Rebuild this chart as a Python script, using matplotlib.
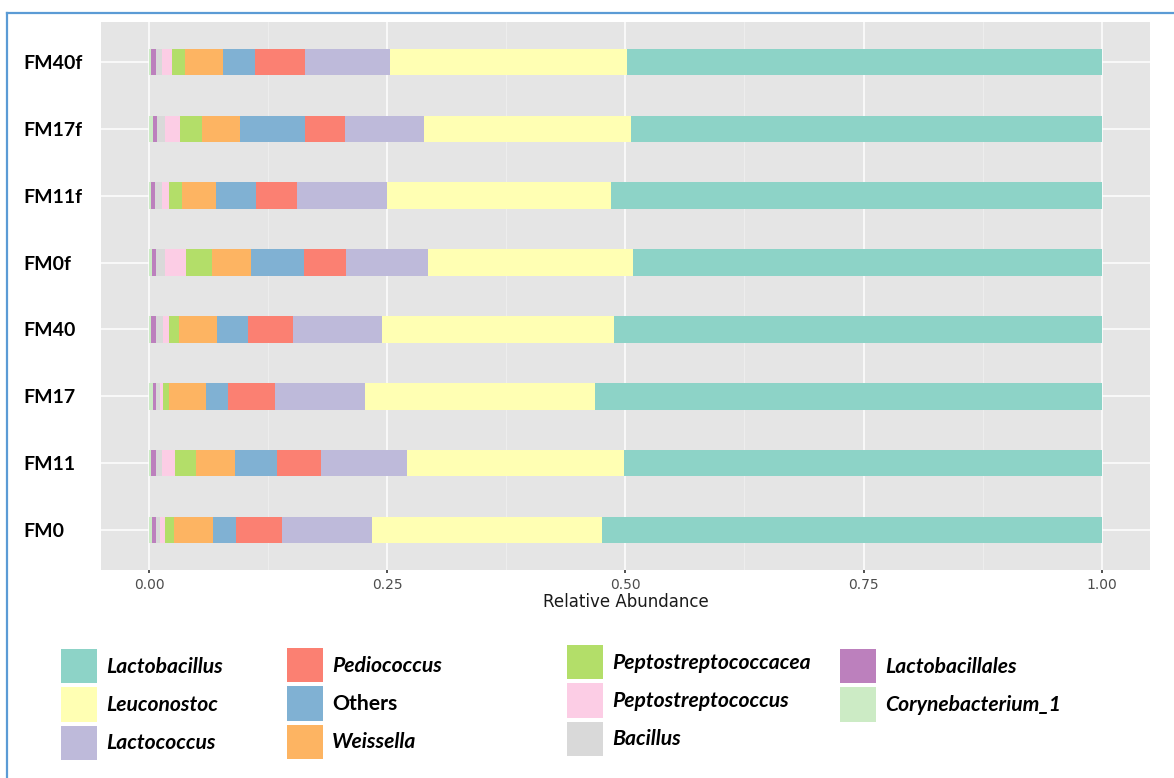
import matplotlib
matplotlib.use("Agg")
import matplotlib.pyplot as plt
from matplotlib.lines import Line2D
import numpy as np

# samples from bottom to top
samples = ["FM0", "FM11", "FM17", "FM40", "FM0f", "FM11f", "FM17f", "FM40f"]

# relative abundance per taxon (same sample order)
lactobacillus = [0.5242, 0.5011, 0.5322, 0.5122, 0.4923, 0.5154, 0.4941, 0.4986]
leuconostoc = [0.2421, 0.2278, 0.2411, 0.2436, 0.2146, 0.2346, 0.2173, 0.2485]
lactococcus = [0.0938, 0.0906, 0.0945, 0.0934, 0.0867, 0.0944, 0.0829, 0.0892]
pediococcus = [0.0486, 0.0459, 0.0490, 0.0466, 0.0434, 0.0437, 0.0420, 0.0525]
others = [0.0245, 0.0444, 0.0234, 0.0332, 0.0560, 0.0416, 0.0682, 0.0336]
weissella = [0.0406, 0.0409, 0.0385, 0.0392, 0.0412, 0.0360, 0.0402, 0.0398]
peptostreptococcaceae = [0.0094, 0.0220, 0.0063, 0.0105, 0.0273, 0.0130, 0.0228, 0.0137]
peptostreptococcus = [0.0053, 0.0140, 0.0035, 0.0070, 0.0217, 0.0080, 0.0157, 0.0105]
bacillus = [0.0042, 0.0060, 0.0042, 0.0070, 0.0095, 0.0070, 0.0081, 0.0066]
lactobacillales = [0.0045, 0.0052, 0.0035, 0.0052, 0.0045, 0.0042, 0.0048, 0.0049]
corynebacterium_1 = [0.0028, 0.0021, 0.0038, 0.0021, 0.0028, 0.0021, 0.0039, 0.0021]

# legend order; bars are stacked from the last one (left) to the first (right)
taxa = [
    ("Lactobacillus", lactobacillus, "#8DD3C7"),
    ("Leuconostoc", leuconostoc, "#FFFFB3"),
    ("Lactococcus", lactococcus, "#BEBADA"),
    ("Pediococcus", pediococcus, "#FB8072"),
    ("Others", others, "#80B1D3"),
    ("Weissella", weissella, "#FDB462"),
    ("Peptostreptococcacea", peptostreptococcaceae, "#B3DE69"),
    ("Peptostreptococcus", peptostreptococcus, "#FCCDE5"),
    ("Bacillus", bacillus, "#D9D9D9"),
    ("Lactobacillales", lactobacillales, "#BC80BD"),
    ("Corynebacterium_1", corynebacterium_1, "#CCEBC5"),
]

legend_columns = [
    ["Lactobacillus", "Leuconostoc", "Lactococcus"],
    ["Pediococcus", "Others", "Weissella"],
    ["Peptostreptococcacea", "Peptostreptococcus", "Bacillus"],
    ["Lactobacillales", "Corynebacterium_1"],
]

W, H = 1174, 778
fig = plt.figure(figsize=(W / 100, H / 100), dpi=100)
ax = fig.add_axes([101 / W, 1 - 570 / H, (1150 - 101) / W, (570 - 22) / H])

ypos = np.arange(len(samples))
left = np.zeros(len(samples))
handles = {}
for name, vals, col in reversed(taxa):
    vals = np.array(vals)
    bars = ax.barh(ypos, vals, left=left, height=0.4, color=col, linewidth=0, zorder=3)
    handles[name] = bars
    left += vals

ax.set_facecolor("#E5E5E5")
ax.set_xlim(-0.0504, 1.0507)
ax.set_ylim(-0.6, len(samples) - 0.4)
ax.set_xticks([0, 0.25, 0.5, 0.75, 1.0])
ax.set_xticklabels(["0.00", "0.25", "0.50", "0.75", "1.00"])
ax.set_xticks([0.125, 0.375, 0.625, 0.875], minor=True)
ax.set_yticks(ypos)
ax.set_yticklabels(samples)
ax.grid(True, which="major", color="white", linewidth=1.1, zorder=0)
ax.grid(True, which="minor", axis="x", color="#EFEFEF", linewidth=0.6, zorder=0)
ax.set_axisbelow(True)
for s in ax.spines.values():
    s.set_visible(False)

ax.tick_params(axis="x", which="major", length=2.5, width=1.2, color="#333333",
               labelsize=10, labelcolor="#4D4D4D", pad=3)
ax.tick_params(axis="x", which="minor", length=0)
ax.tick_params(axis="y", length=0, pad=56)
for lab in ax.get_yticklabels():
    lab.set_ha("left")
    lab.set_fontfamily("Lato")
    lab.set_fontweight("bold")
    lab.set_fontsize(14)
    lab.set_color("black")

ax.set_xlabel("Relative Abundance", fontsize=12, color="#1A1A1A", labelpad=1)

# legend, one block per column
leg_fs = 15.2
col_anchor = [(61, 649), (287, 648), (567, 645), (840, 649)]
for names, (lx, ly) in zip(legend_columns, col_anchor):
    leg = fig.legend([handles[n] for n in names], names, loc="upper left",
                     bbox_to_anchor=(lx / W, 1 - ly / H), frameon=False,
                     borderpad=0, borderaxespad=0, handlelength=1.7,
                     handleheight=2.12, handletextpad=0.42, labelspacing=0.19,
                     prop={"family": "Lato", "weight": "bold", "style": "italic", "size": leg_fs})
    for t in leg.get_texts():
        if t.get_text() == "Others":
            t.set_fontstyle("normal")

# blue frame lines of the original slide
fig.add_artist(Line2D([7 / W, 7 / W], [0, 1 - 13 / H], color="#5B9BD5", linewidth=1.6))
fig.add_artist(Line2D([7 / W, 1], [1 - 13 / H, 1 - 13 / H], color="#5B9BD5", linewidth=1.6))

fig.savefig("out.png", dpi=100, facecolor="white")
